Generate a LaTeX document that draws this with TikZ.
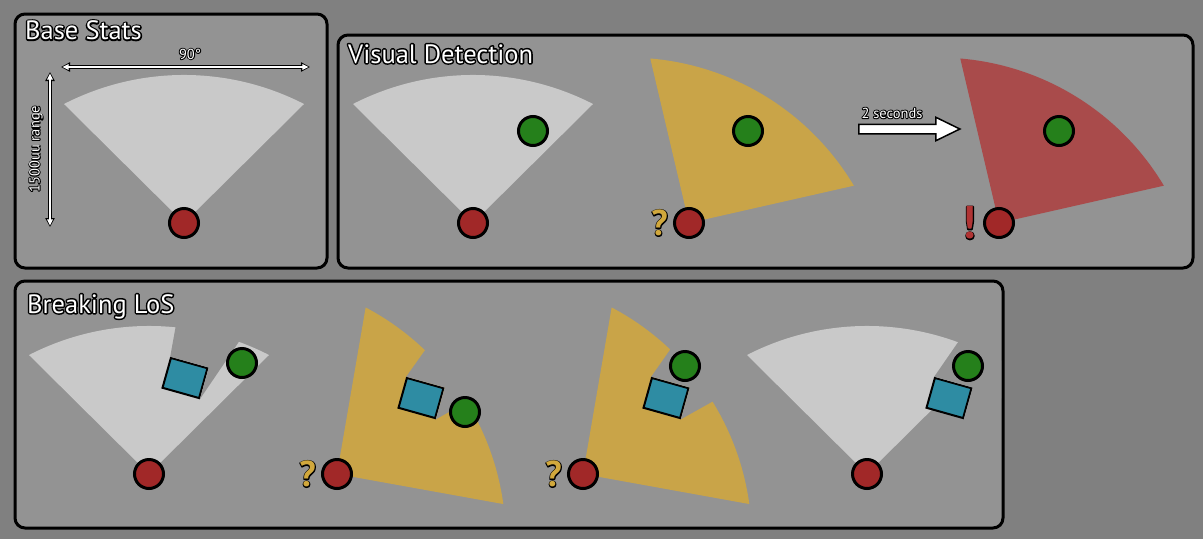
\documentclass[tikz,border=0pt]{standalone}
\usepackage{fontspec}
\setmainfont{PT Sans}
\usetikzlibrary{shapes,arrows.meta,positioning,calc}

\definecolor{backgray}{HTML}{808080}
\definecolor{panelgray}{HTML}{939393}
\definecolor{conelight}{HTML}{C9C9C9}
\definecolor{conesuspect}{HTML}{C9A448}
\definecolor{conealert}{HTML}{A94B4B}
\definecolor{guardred}{HTML}{A12828}
\definecolor{playergreen}{HTML}{25801B}
\definecolor{crateblue}{HTML}{2E8CA3}
\definecolor{askyellow}{HTML}{D1A83C}
\definecolor{alertred}{HTML}{B03434}

% vision cone, apex at the origin, pointing up
\newcommand{\conepath}{(0,0) -- (-120,-119) .. controls (-44.6,-157.7) and (44.6,-157.7) .. (120,-119) -- cycle}
% text with a black outline: a stroked copy under the filled one
\newcommand{\strokedtext}[2]{\rlap{\special{pdf:code q 1 Tr #1 w 1 j 0 G}#2\special{pdf:code Q}}#2}
\newcommand{\outlinetitle}[1]{\strokedtext{3}{#1}}
\newcommand{\outlinelabel}[1]{\strokedtext{2}{#1}}

\tikzset{
    panelbox/.style={
        draw=black,               % frame line
        line width=3pt,
        rounded corners=10pt,     % soft corners
        fill=panelgray
    },
    paneltitle/.style={
        font=\fontsize{26.5}{30}\selectfont,
        text=white,
        anchor=base west,
        inner sep=0pt
    },
    smalllabel/.style={
        font=\fontsize{14.5}{16}\selectfont,
        text=white,
        inner sep=0pt
    },
    guard/.style={
        circle,
        draw=black,
        line width=3pt,
        fill=guardred,
        minimum size=29pt,
        inner sep=0pt
    },
    player/.style={
        circle,
        draw=black,
        line width=3pt,
        fill=playergreen,
        minimum size=29pt,
        inner sep=0pt
    },
    crate/.style={
        rectangle,
        draw=black,
        line width=2pt,
        fill=crateblue,
        minimum width=38pt,
        minimum height=31pt,
        inner sep=0pt,
        rotate=-15.7              % tilted box
    },
    askmark/.style={
        font=\bfseries\fontsize{36}{40}\selectfont,
        text=askyellow,
        inner sep=0pt
    },
    alertmark/.style={
        font=\bfseries\fontsize{46}{48}\selectfont,
        text=alertred,
        inner sep=0pt
    },
    dimout/.style={
        black,
        line width=3.6pt,
        {Triangle[length=9pt,width=9pt]}-{Triangle[length=9pt,width=9pt]}
    },
    dimin/.style={
        white,
        line width=1.4pt,
        shorten <=1.6pt,
        shorten >=1.6pt,
        {Triangle[length=6pt,width=5.5pt]}-{Triangle[length=6pt,width=5.5pt]}
    },
    timearrow/.style={
        single arrow,
        draw=black,
        line width=1.5pt,
        fill=white,
        inner sep=4pt,
        minimum height=101pt,
        single arrow head extend=7pt,
        single arrow tip angle=52
    }
}

\begin{document}
\begin{tikzpicture}[x=1pt, y=-1pt]
\useasboundingbox (0,0) rectangle (1203,539);
\fill[backgray] (0,0) rectangle (1203,539);

% panels
\draw[panelbox] (15,14) rectangle (327,268);
\draw[panelbox] (338,35) rectangle (1193,268);
\draw[panelbox] (15,281) rectangle (1003,528);
\node[paneltitle] (basetitle) at (25,39.5) {\outlinetitle{Base Stats}};
\node[paneltitle] (visualtitle) at (348,63) {\outlinetitle{Visual Detection}};
\node[paneltitle] (lostitle) at (27,313) {\outlinetitle{Breaking LoS}};

% cone apexes
\coordinate (apexbase) at (184,223);
\coordinate (apexseen) at (473,223);
\coordinate (apexask) at (689,223);
\coordinate (apexalert) at (999,223);
\coordinate (apexA) at (149,474);
\coordinate (apexB) at (337,474);
\coordinate (apexC) at (583,474);
\coordinate (apexD) at (867,474);

% cones
\fill[conelight, shift={(apexbase)}] \conepath;
\fill[conelight, shift={(apexseen)}] \conepath;
\fill[conesuspect, shift={(apexask)}, rotate=-32] \conepath;
\fill[conealert, shift={(apexalert)}, rotate=-32] \conepath;
\fill[conelight, shift={(apexA)}] \conepath;
\fill[conesuspect, shift={(apexB)}, rotate=-55] \conepath;
\fill[conesuspect, shift={(apexC)}, rotate=-55] \conepath;
\fill[conelight, shift={(apexD)}] \conepath;

% base stats measures
\coordinate (spanleft) at (61,67);
\coordinate (spanright) at (310,67);
\coordinate (rangetop) at (50,72);
\coordinate (rangebottom) at (50,227);
\draw[dimout] (spanleft) -- (spanright);
\draw[dimin] (spanleft) -- (spanright);
\draw[dimout] (rangetop) -- (rangebottom);
\draw[dimin] (rangetop) -- (rangebottom);
\node[smalllabel] (spanlabel) at (190,54) {\outlinelabel{90°}};
\node[smalllabel, rotate=90] (rangelabel) at (36,149) {\outlinelabel{1500uu range}};

% two seconds later
\node[timearrow] (later) at (904.5,129) {};
\node[smalllabel] (laterlabel) at (892,113) {\outlinelabel{2 seconds}};

% crates
\node[crate] (crateA) at (185,378) {};
\node[crate] (crateB) at (421,398) {};
\node[crate] (crateC) at (666,398) {};
\node[crate] (crateD) at (949,398) {};

% shadows behind the crates
\begin{scope}
  \clip (17,283) rectangle (1001,526);
  \foreach \c in {A,B,C,D}
    \fill[panelgray] (crate\c.north west) -- ($(apex\c)!180pt!(crate\c.north west)$)
      -- ($(apex\c)!180pt!(crate\c.south east)$) -- (crate\c.south east)
      -- (crate\c.north east) -- cycle;
\end{scope}

% players
\node[player] (playerseen) at (533,131) {};
\node[player] (playerask) at (748,131) {};
\node[player] (playeralert) at (1059,131) {};
\node[player] (playerA) at (242,363) {};
\node[player] (playerB) at (465,412) {};
\node[player] (playerC) at (685,366) {};
\node[player] (playerD) at (968,366) {};

% guards
\node[guard] (guardbase) at (apexbase) {};
\node[guard] (guardseen) at (apexseen) {};
\node[guard] (guardask) at (apexask) {};
\node[guard] (guardalert) at (apexalert) {};
\node[guard] (guardA) at (apexA) {};
\node[guard] (guardB) at (apexB) {};
\node[guard] (guardC) at (apexC) {};
\node[guard] (guardD) at (apexD) {};

% guard states
\node[askmark, left=5pt of guardask] (askseen) {\outlinelabel{?}};
\node[alertmark, left=7pt of guardalert] (alertseen) {\outlinelabel{!}};
\node[askmark, left=5pt of guardB] (askB) {\outlinelabel{?}};
\node[askmark, left=5pt of guardC] (askC) {\outlinelabel{?}};
\end{tikzpicture}
\end{document}
